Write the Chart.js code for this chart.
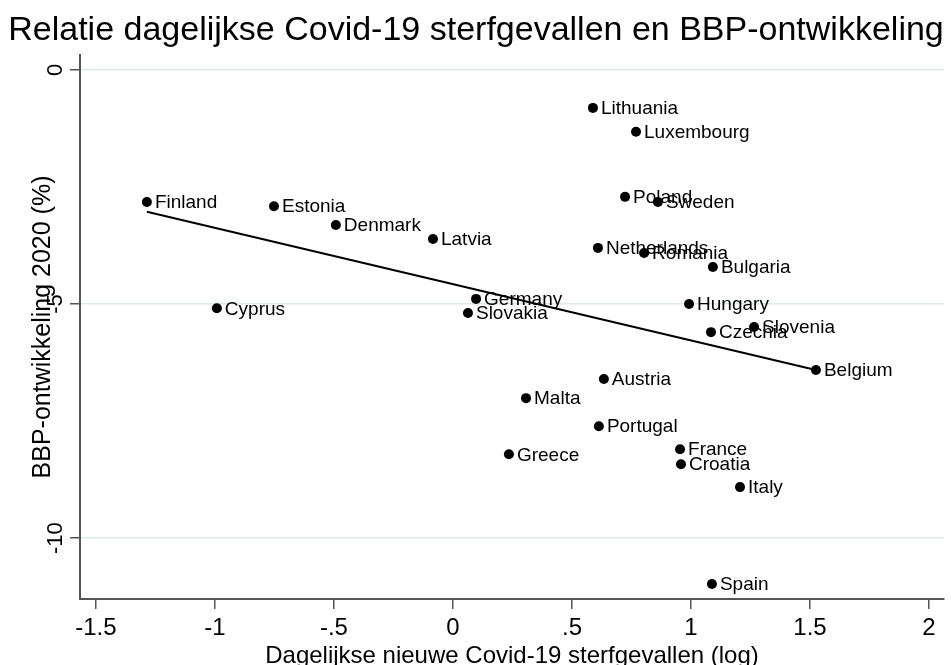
<!DOCTYPE html>
<html><head><meta charset="utf-8">
<script src="https://cdn.jsdelivr.net/npm/chart.js@4"></script>
<style>html,body{margin:0;padding:0;background:#fff}canvas{display:block}</style>
</head><body>
<canvas id="c" width="951" height="665"></canvas>
<script>
const countries = ['Lithuania','Luxembourg','Finland','Estonia','Denmark','Latvia','Poland','Sweden','Netherlands','Romania','Bulgaria','Hungary','Germany','Slovakia','Cyprus','Czechia','Slovenia','Belgium','Austria','Malta','Portugal','Greece','France','Croatia','Italy','Spain'];
const logDeaths = [0.588,0.769,-1.286,-0.752,-0.492,-0.084,0.723,0.861,0.609,0.803,1.092,0.992,0.097,0.063,-0.992,1.084,1.265,1.525,0.634,0.307,0.613,0.235,0.954,0.958,1.206,1.088];
const gdpGrowth = [-0.81,-1.32,-2.82,-2.91,-3.31,-3.61,-2.71,-2.82,-3.80,-3.91,-4.21,-5.00,-4.89,-5.19,-5.09,-5.60,-5.49,-6.41,-6.60,-7.01,-7.61,-8.21,-8.10,-8.42,-8.91,-10.98];
const fitX = [-1.286, 1.525];
const fitY = [-3.03, -6.41];
const xTickValues = [-1.5,-1,-0.5,0,0.5,1,1.5,2];
const xTickLabels = ['-1.5','-1','-.5','0','.5','1','1.5','2'];
const yTickValues = [0,-5,-10];
const yTickLabels = ['0','-5','-10'];
const titleText = 'Relatie dagelijkse Covid-19 sterfgevallen en BBP-ontwikkeling';
const xTitle = 'Dagelijkse nieuwe Covid-19 sterfgevallen (log)';
const yTitle = 'BBP-ontwikkeling 2020 (%)';

const FONT = "'Liberation Sans', Arial, sans-serif";
Chart.defaults.font.family = FONT;

const textPlugin = {
  id: 'textPlugin',
  afterDatasetsDraw(chart) {
    const ctx = chart.ctx;
    const meta = chart.getDatasetMeta(0);
    ctx.save();
    ctx.fillStyle = '#000';
    ctx.font = '19px ' + FONT;
    ctx.textAlign = 'left';
    ctx.textBaseline = 'middle';
    meta.data.forEach((pt, i) => {
      ctx.fillText(countries[i], pt.x + 8, pt.y + 1);
    });
    ctx.restore();
  },
  afterDraw(chart) {
    const ctx = chart.ctx;
    const ys = chart.scales.y;
    const area = chart.chartArea;
    ctx.save();
    ctx.fillStyle = '#000';
    // title
    ctx.font = '34px ' + FONT;
    ctx.textAlign = 'center';
    ctx.textBaseline = 'alphabetic';
    ctx.fillText(titleText, 476, 40);
    // x title
    ctx.font = '24px ' + FONT;
    ctx.fillText(xTitle, (area.left + area.right) / 2, 663);
    // y tick labels
    ctx.font = '22px ' + FONT;
    yTickValues.forEach((v, i) => {
      const py = ys.getPixelForValue(v);
      ctx.save();
      ctx.translate(62, py);
      ctx.rotate(-Math.PI / 2);
      ctx.fillText(yTickLabels[i], 0, 0);
      ctx.restore();
    });
    // y title
    ctx.font = '25px ' + FONT;
    ctx.save();
    ctx.translate(50, (area.top + area.bottom) / 2);
    ctx.rotate(-Math.PI / 2);
    ctx.fillText(yTitle, 0, 0);
    ctx.restore();
    ctx.restore();
  }
};

new Chart(document.getElementById('c'), {
  type: 'scatter',
  data: {
    datasets: [
      {
        data: logDeaths.map((x, i) => ({x: x, y: gdpGrowth[i]})),
        pointRadius: 5,
        pointBackgroundColor: '#000',
        pointBorderColor: '#000',
        pointBorderWidth: 0,
        showLine: false,
        order: 1
      },
      {
        type: 'line',
        data: fitX.map((x, i) => ({x: x, y: fitY[i]})),
        borderColor: '#000',
        borderWidth: 2,
        pointRadius: 0,
        fill: false,
        order: 2
      }
    ]
  },
  options: {
    responsive: false,
    animation: false,
    devicePixelRatio: 1,
    layout: { padding: { top: 55, right: 7, left: 0, bottom: 0 } },
    plugins: { legend: { display: false }, tooltip: { enabled: false }, title: { display: false } },
    scales: {
      x: {
        type: 'linear',
        min: -1.567,
        max: 2.063,
        afterBuildTicks: s => { s.ticks = xTickValues.map(v => ({ value: v })); },
        afterFit: s => { s.height = 66; },
        ticks: {
          autoSkip: false,
          maxRotation: 0,
          minRotation: 0,
          color: '#000',
          font: { size: 24 },
          padding: 5,
          callback: v => xTickLabels[xTickValues.indexOf(v)]
        },
        grid: { drawOnChartArea: false, drawTicks: true, tickLength: 10, tickColor: '#555', lineWidth: 1.5 },
        border: { color: '#555', width: 2 }
      },
      y: {
        type: 'linear',
        min: -11.30,
        max: 0.32,
        afterBuildTicks: s => { s.ticks = yTickValues.map(v => ({ value: v })); },
        afterFit: s => { s.width = 80; },
        ticks: { display: false },
        grid: { color: '#deeaea', lineWidth: 1.5, drawTicks: true, tickLength: 10, tickColor: '#555' },
        border: { color: '#555', width: 2 }
      }
    }
  },
  plugins: [textPlugin]
});
</script>
</body></html>
